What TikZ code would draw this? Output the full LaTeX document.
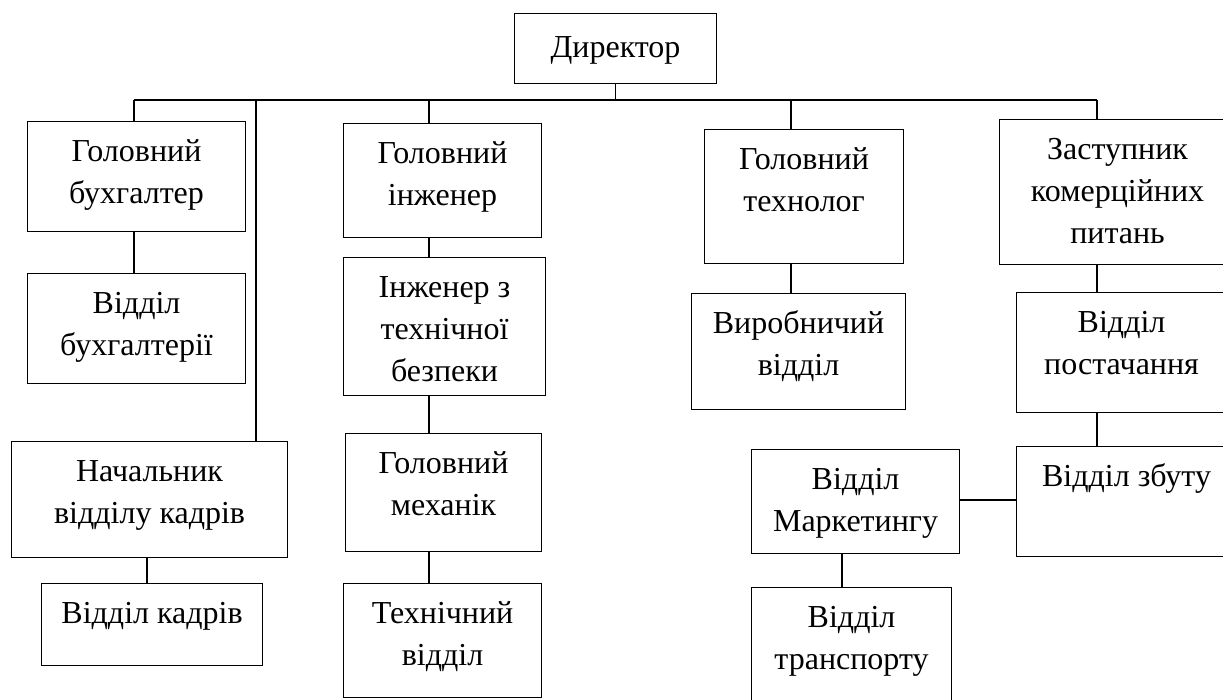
\documentclass[tikz,border=0pt]{standalone}
\usepackage{fontspec}
\setmainfont{Liberation Serif}
\tikzset{
  box/.style={draw=black, line width=1.1pt, inner sep=0pt, anchor=north west},
  lbl/.style={anchor=north, inner sep=0pt, align=center, font=\fontsize{32}{42}\selectfont},
  conn/.style={draw=black, line width=1.5pt},
}
\newcommand\orgbox[6]{%
  \node[box, minimum width={(#4-#2)*1pt}, minimum height={(#5-#3)*1pt}] (#1) at (#2,#3) {};
  \node[lbl] (#1t) at ([yshift=-10pt]#1.north) {\rule{0pt}{30pt}#6};
}
\begin{document}
\begin{tikzpicture}[x=1pt,y=-1pt]
\useasboundingbox (0,0) rectangle (1223,700);
\clip (0,0) rectangle (1223,700);
\fill[white] (0,0) rectangle (1223,700);

% director
\node[box, minimum width=202pt, minimum height=70pt] (dir) at (514,13) {};
\node[lbl] (dirt) at ([yshift=-14pt]dir.north) {\rule{0pt}{30pt}Директор};

% column 1
\orgbox{gb}{27}{121}{245}{231}{Головний\\бухгалтер}
\orgbox{vb}{27}{273}{245}{383}{Відділ\\бухгалтерії}
\orgbox{nk}{11}{441}{287}{557}{Начальник\\відділу кадрів}
\orgbox{vk}{41}{583}{262}{665}{Відділ кадрів}

% column 2
\orgbox{gi}{343}{123}{541}{237}{Головний\\інженер}
\orgbox{it}{343}{257}{545}{395}{Інженер з\\технічної\\безпеки}
\orgbox{gm}{345}{433}{541}{551}{Головний\\механік}
\orgbox{tv}{343}{583}{541}{697}{Технічний\\відділ}

% column 3
\orgbox{gt}{704}{129}{903}{263}{Головний\\технолог}
\orgbox{vv}{691}{293}{905}{409}{Виробничий\\відділ}
\orgbox{vm}{751}{449}{959}{553}{Відділ\\Маркетингу}
\orgbox{vtr}{751}{587}{951}{712}{Відділ\\транспорту}

% column 4
\orgbox{zk}{999}{119}{1235}{264}{Заступник\\комерційних\\питань}
\orgbox{vp}{1016}{292}{1226}{412}{Відділ\\постачання}
\orgbox{vz}{1016}{446}{1236}{556}{Відділ збуту}

% bus
\coordinate (busL) at (134,100);
\coordinate (busR) at (1097,100);
\coordinate (cnk) at (256,100);
\coordinate (cgi) at (429,100);
\coordinate (cgt) at (791,100);
\coordinate (cvk) at (147,557);
\coordinate (cvm) at (842,553);

\draw[conn] (dir.south) -- (dir.south |- busL);
\draw[conn] (busL) -- (busR);

\draw[conn] (busL) -- (busL |- gb.north);
\draw[conn] (busL |- gb.south) -- (busL |- vb.north);

\draw[conn] (cnk) -- (cnk |- nk.north);
\draw[conn] (cvk |- nk.south) -- (cvk |- vk.north);

\draw[conn] (cgi) -- (cgi |- gi.north);
\draw[conn] (cgi |- gi.south) -- (cgi |- it.north);
\draw[conn] (cgi |- it.south) -- (cgi |- gm.north);
\draw[conn] (cgi |- gm.south) -- (cgi |- tv.north);

\draw[conn] (cgt) -- (cgt |- gt.north);
\draw[conn] (cgt |- gt.south) -- (cgt |- vv.north);

\draw[conn] (busR) -- (busR |- zk.north);
\draw[conn] (busR |- zk.south) -- (busR |- vp.north);
\draw[conn] (busR |- vp.south) -- (busR |- vz.north);

\draw[conn] (vm.east |- 0,500) -- (vz.west |- 0,500);
\draw[conn] (cvm |- vm.south) -- (cvm |- vtr.north);
\end{tikzpicture}
\end{document}
